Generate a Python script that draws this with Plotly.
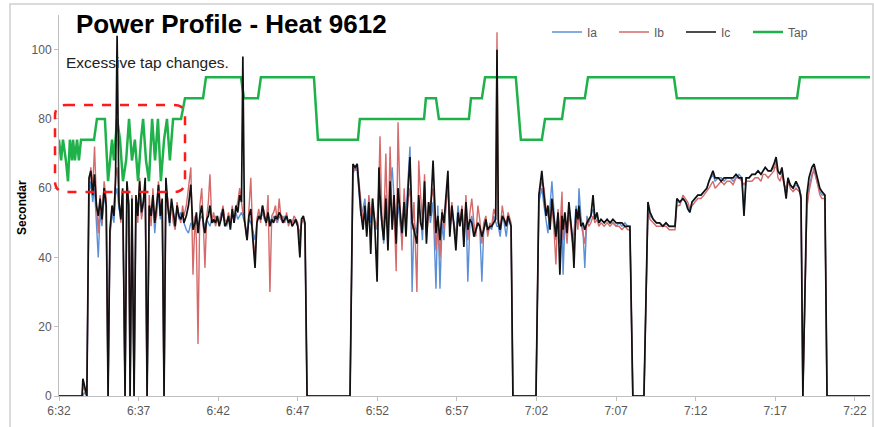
import pandas as pd
import plotly.graph_objects as go

# ---- current samples (seconds after 6:32:00) ----
cur_sec = [0, 87, 90, 95, 105, 113, 120, 127, 134, 141, 148, 155, 162, 170, 178, 185, 192, 200, 207, 213, 219, 226, 233, 240, 249, 256, 263, 268, 275, 283, 290, 297, 304, 311, 318, 325, 332, 340, 347, 354, 361, 368, 375, 382, 389, 396, 403, 410, 417, 424, 431, 438, 445, 452, 459, 466,
           471, 480, 488, 497, 505, 513, 518, 524, 531, 538, 545, 550, 557, 563, 569, 576, 583, 590, 597, 604, 611, 618, 625, 632, 639, 646, 653, 660, 667, 674, 681, 688, 693, 699, 704, 709, 716, 723, 730, 739, 746, 753, 760, 767, 774, 781, 788, 795, 802, 809, 816, 823, 830, 837, 844, 851, 858, 865, 872, 879, 886, 893, 900, 908, 914, 921, 927, 935,
           1097, 1108, 1116, 1124, 1131, 1138, 1146, 1153, 1160, 1168, 1175, 1182, 1190, 1199, 1206, 1210, 1217, 1224, 1232, 1240, 1248, 1256, 1263, 1271, 1278, 1286, 1293, 1301, 1308, 1316, 1323, 1331, 1338, 1349, 1356, 1363, 1370, 1378, 1385, 1393, 1400, 1410, 1421, 1428, 1436, 1444, 1451, 1459, 1466, 1473, 1481, 1489, 1496, 1504, 1511, 1519, 1526, 1534, 1541, 1549, 1556, 1564, 1571, 1579, 1586, 1594, 1601, 1609, 1616, 1624, 1631, 1639, 1646, 1651, 1656, 1663, 1671, 1678, 1686, 1693, 1700, 1704, 1711,
           1798, 1809, 1820, 1828, 1836, 1843, 1851, 1858, 1866, 1873, 1881, 1888, 1896, 1900, 1907, 1915, 1922, 1930, 1937, 1941, 1949, 1956, 1960, 1967, 1975, 1982, 1990, 1997, 2005, 2013, 2020, 2028, 2035, 2043, 2055, 2066, 2077, 2088, 2100, 2111, 2122, 2133, 2144, 2152, 2163,
           2205, 2220, 2228, 2240, 2252, 2264, 2276, 2288, 2300, 2311, 2322, 2329, 2340, 2352, 2362, 2370, 2378, 2386, 2397, 2408, 2420, 2431, 2442, 2450, 2465, 2473, 2485, 2496, 2507, 2518, 2530, 2541, 2552, 2563, 2574, 2582, 2590, 2601, 2612, 2624, 2635, 2646, 2654, 2662, 2673, 2684, 2695, 2703, 2710, 2718, 2725, 2733, 2741, 2748, 2756, 2767, 2778, 2790, 2797, 2804,
           2819, 2827, 2838, 2846, 2857, 2868, 2876, 2887, 2895, 3057]

ia = [0, 0, 0, 1, 0, 58, 62, 56, 60, 50, 40, 53, 49, 58, 54, 0, 46, 53, 50, 58, 60, 54, 52, 58, 0, 60, 56, 0, 55, 0, 57, 53, 58, 52, 57, 61, 0, 54, 51, 56, 47, 54, 58, 51, 55, 0, 61, 54, 49, 56, 53, 50, 54, 51, 53, 52,
      50, 48, 47, 50, 49, 51, 50, 49, 51, 52, 50, 49, 51, 50, 49, 51, 50, 52, 51, 50, 53, 52, 50, 49, 51, 50, 52, 51, 53, 51, 52, 53, 52, 50, 49, 47, 51, 50, 48, 45, 50, 52, 51, 53, 51, 50, 52, 51, 50, 52, 51, 50, 52, 51, 50, 52, 51, 50, 51, 50, 51, 50, 49, 47, 50, 51, 50, 0,
      0, 64, 66, 65, 57, 52, 54, 57, 50, 56, 50, 55, 51, 48, 60, 55, 50, 44, 58, 47, 60, 66, 57, 48, 55, 50, 45, 58, 52, 63, 72, 30, 50, 47, 55, 52, 45, 60, 48, 55, 50, 56, 31, 55, 31, 50, 45, 56, 60, 48, 53, 50, 46, 55, 50, 52, 47, 55, 33, 50, 52, 48, 47, 50, 49, 33, 48, 50, 47, 49, 48, 52, 50, 49, 49, 46, 52, 50, 46, 51, 50, 49, 0,
      0, 56, 60, 55, 50, 47, 55, 62, 53, 45, 52, 44, 55, 35, 50, 46, 55, 50, 45, 47, 55, 50, 60, 52, 48, 37, 52, 50, 52, 54, 51, 52, 50, 51, 50, 51, 50, 50, 49, 50, 49, 50, 49, 49, 0,
      0, 55, 52, 51, 50, 50, 49, 50, 49, 49, 49, 56, 56, 57, 56, 55, 53, 56, 57, 58, 58, 59, 60, 62, 64, 62, 63, 63, 62, 63, 63, 62, 63, 64, 63, 53, 63, 63, 64, 64, 65, 64, 65, 66, 65, 65, 66, 66, 65, 64, 65, 62, 58, 62, 61, 60, 61, 60, 58, 0,
      55, 60, 64, 65, 62, 59, 58, 58, 0, 0]

ib = [0, 0, 3, 2, 0, 61, 66, 60, 72, 56, 47, 58, 50, 62, 57, 0, 47, 54, 53, 63, 66, 57, 50, 59, 0, 61, 52, 0, 58, 0, 56, 50, 63, 51, 55, 60, 0, 58, 49, 60, 50, 52, 62, 55, 56, 0, 60, 57, 52, 55, 50, 48, 56, 52, 50, 55,
      52, 55, 60, 66, 35, 52, 45, 15, 55, 60, 48, 37, 52, 56, 64, 50, 53, 49, 51, 50, 52, 55, 51, 50, 53, 49, 55, 50, 54, 56, 60, 55, 53, 52, 47, 45, 55, 63, 47, 40, 51, 54, 50, 55, 53, 49, 58, 30, 52, 53, 55, 50, 57, 51, 52, 50, 53, 49, 51, 50, 52, 51, 50, 45, 50, 51, 49, 0,
      0, 66, 65, 67, 61, 55, 50, 54, 47, 58, 52, 57, 48, 50, 62, 75, 52, 48, 70, 44, 72, 50, 54, 36, 79, 55, 42, 60, 50, 57, 60, 48, 56, 30, 68, 58, 50, 64, 46, 52, 56, 60, 42, 50, 40, 54, 48, 55, 62, 50, 56, 48, 44, 52, 50, 55, 44, 58, 45, 53, 57, 50, 46, 55, 51, 44, 50, 52, 46, 50, 49, 54, 52, 105, 51, 48, 55, 51, 50, 53, 51, 50, 0,
      0, 58, 62, 60, 54, 52, 50, 55, 48, 38, 54, 47, 59, 45, 52, 44, 53, 48, 42, 46, 52, 48, 54, 50, 47, 44, 51, 49, 50, 52, 50, 51, 49, 50, 49, 50, 49, 50, 49, 49, 48, 49, 48, 48, 0,
      0, 53, 51, 50, 49, 49, 49, 49, 48, 48, 48, 55, 55, 58, 57, 56, 54, 55, 56, 57, 57, 58, 59, 60, 62, 60, 61, 62, 61, 62, 62, 61, 63, 63, 62, 61, 62, 62, 62, 63, 63, 62, 64, 64, 63, 64, 65, 68, 63, 62, 64, 61, 60, 63, 60, 59, 60, 59, 58, 0,
      54, 59, 63, 66, 62, 58, 57, 57, 0, 0]

ic = [0, 0, 5, 3, 0, 63, 65, 58, 64, 55, 52, 57, 51, 60, 55, 0, 48, 55, 52, 62, 104, 56, 51, 60, 0, 62, 55, 0, 57, 0, 58, 52, 62, 53, 56, 63, 0, 55, 52, 58, 50, 55, 61, 52, 57, 0, 63, 55, 50, 57, 52, 49, 55, 52, 51, 53,
      50, 52, 55, 61, 48, 50, 53, 47, 52, 55, 49, 47, 51, 52, 55, 50, 51, 50, 52, 49, 51, 54, 49, 50, 52, 48, 54, 50, 55, 53, 58, 56, 98, 51, 48, 45, 52, 54, 46, 37, 50, 52, 51, 55, 52, 50, 53, 49, 51, 50, 52, 51, 53, 52, 50, 51, 52, 50, 51, 49, 50, 51, 49, 40, 51, 52, 50, 0,
      0, 67, 66, 67, 60, 53, 48, 55, 46, 56, 41, 57, 50, 33, 66, 58, 50, 45, 57, 42, 62, 48, 58, 44, 60, 52, 47, 56, 46, 60, 69, 50, 48, 44, 58, 50, 48, 62, 44, 56, 52, 68, 47, 52, 45, 53, 50, 58, 65, 46, 55, 49, 42, 53, 49, 54, 43, 56, 48, 51, 50, 46, 48, 50, 49, 46, 48, 51, 48, 49, 49, 50, 51, 100, 50, 48, 52, 51, 49, 52, 50, 49, 0,
      0, 58, 65, 58, 52, 55, 48, 57, 50, 46, 53, 35, 52, 48, 53, 47, 56, 50, 44, 37, 54, 51, 55, 49, 50, 48, 50, 51, 52, 58, 51, 53, 50, 51, 50, 51, 50, 51, 50, 50, 50, 49, 49, 49, 0,
      0, 56, 53, 51, 50, 50, 49, 50, 49, 49, 49, 57, 56, 57, 56, 54, 53, 56, 57, 58, 58, 59, 60, 62, 65, 63, 63, 62, 63, 63, 63, 63, 64, 63, 63, 52, 63, 63, 64, 64, 65, 64, 65, 66, 65, 65, 67, 69, 65, 64, 66, 62, 57, 63, 61, 60, 62, 60, 57, 0,
      58, 63, 66, 67, 63, 60, 59, 58, 0, 0]

# ---- tap position samples ----
tap_sec = [0, 8, 15, 26, 34, 41, 49, 53, 60, 68, 75, 83, 132, 143, 173, 185, 200, 207, 219, 230, 241, 253, 264, 275, 286, 298, 309, 317, 328, 339, 351, 362, 373, 384, 396, 407, 418, 430, 449, 460, 475, 543, 554, 686, 697, 750, 761, 961, 976, 1127, 1134, 1376, 1383, 1421, 1432, 1545, 1553, 1594, 1606, 1722, 1741, 1820, 1832, 1896, 1907, 1982, 1994, 2318, 2329, 2782, 2793, 3057]
tap = [74, 68, 74, 68, 62, 74, 68, 74, 68, 74, 68, 74, 74, 80, 80, 62, 74, 68, 80, 74, 62, 68, 80, 68, 74, 62, 74, 80, 68, 62, 80, 68, 80, 62, 74, 80, 68, 80, 80, 80, 86, 86, 92, 92, 86, 86, 92, 92, 74, 74, 80, 80, 86, 86, 80, 80, 86, 86, 92, 92, 74, 74, 80, 80, 86, 86, 92, 92, 86, 86, 92, 92]

y_ticks = [0, 20, 40, 60, 80, 100]
title_text = "Power Profile - Heat 9612"
note_text = "Excessive tap changes."
y_title = "Secondar"

base = pd.Timestamp("2020-01-01 06:32:00")
t_cur = base + pd.to_timedelta(cur_sec, unit="s")
t_tap = base + pd.to_timedelta(tap_sec, unit="s")

fig = go.Figure()
fig.add_trace(go.Scatter(x=t_tap, y=tap, name="Tap", mode="lines",
                         line=dict(color="#1fb24a", width=2.5), legendrank=4))
fig.add_trace(go.Scatter(x=t_cur, y=ia, name="Ia", mode="lines",
                         line=dict(color="#5b8fd6", width=1.4), legendrank=1))
fig.add_trace(go.Scatter(x=t_cur, y=ib, name="Ib", mode="lines",
                         line=dict(color="#d46a6a", width=1.4), legendrank=2))
fig.add_trace(go.Scatter(x=t_cur, y=ic, name="Ic", mode="lines",
                         line=dict(color="#111111", width=1.7), legendrank=3))

L, R, T, B = 59, 4, 15, 31
W, H = 874, 427
pw, ph = W - L - R, H - T - B

def px(x):
    return (x - L) / pw

def py(y):
    return (H - B - y) / ph

# rounded dashed highlight box
x0, x1, y0, y1 = px(55), px(185), py(192), py(105)
rx, ry = 11 / pw, 11 / ph
path = (f"M {x0+rx},{y1} L {x1-rx},{y1} Q {x1},{y1} {x1},{y1-ry} "
        f"L {x1},{y0+ry} Q {x1},{y0} {x1-rx},{y0} L {x0+rx},{y0} "
        f"Q {x0},{y0} {x0},{y0+ry} L {x0},{y1-ry} Q {x0},{y1} {x0+rx},{y1} Z")

fig.update_layout(
    width=W, height=H,
    margin=dict(l=L, r=R, t=T, b=B, autoexpand=False),
    paper_bgcolor="white", plot_bgcolor="white",
    font=dict(family="Liberation Sans, Arial, sans-serif", color="#595959", size=12),
    showlegend=True,
    legend=dict(orientation="h", x=px(547), y=py(32), xanchor="left", yanchor="middle",
                bgcolor="rgba(0,0,0,0)", font=dict(size=12, color="#595959"),
                entrywidth=22, entrywidthmode="pixels", traceorder="normal",
                itemwidth=30),
    xaxis=dict(type="date", range=[base, base + pd.Timedelta(seconds=3057)],
               tick0=base, dtick=300000, tickformat="%-H:%M",
               showgrid=False, zeroline=False, showline=True, linecolor="#bfbfbf", linewidth=1,
               ticks="outside", ticklen=4, tickcolor="#bfbfbf",
               tickfont=dict(size=12, color="#595959")),
    yaxis=dict(range=[0, 110], tickvals=y_ticks, showgrid=False, zeroline=False,
               showline=True, linecolor="#bfbfbf", linewidth=1,
               ticks="outside", ticklen=4, tickcolor="#bfbfbf",
               tickfont=dict(size=12, color="#595959")),
    shapes=[
        dict(type="path", xref="paper", yref="paper", path=path,
             line=dict(color="#ff1a1a", width=2.5, dash="dash")),
        dict(type="rect", xref="paper", yref="paper",
             x0=px(10), x1=px(873), y0=py(440), y1=py(4),
             line=dict(color="#d0d0d0", width=1.5)),
    ],
    annotations=[
        dict(text=f"<b>{title_text}</b>", xref="paper", yref="paper", x=px(74), y=py(24),
             xanchor="left", yanchor="middle", showarrow=False,
             font=dict(family="Liberation Sans, Arial, sans-serif", size=26, color="#000000")),
        dict(text=note_text, xref="paper", yref="paper", x=px(64), y=py(62),
             xanchor="left", yanchor="middle", showarrow=False,
             font=dict(family="Liberation Sans, Arial, sans-serif", size=15.5, color="#222222")),
        dict(text=f"<b>{y_title}</b>", xref="paper", yref="paper", x=px(22), y=py(208),
             xanchor="center", yanchor="middle", showarrow=False, textangle=-90,
             font=dict(family="Liberation Sans, Arial, sans-serif", size=12, color="#000000")),
    ],
)

fig.write_html("out.html", config={"displayModeBar": False},
               post_script="document.body.style.margin='0px';")
